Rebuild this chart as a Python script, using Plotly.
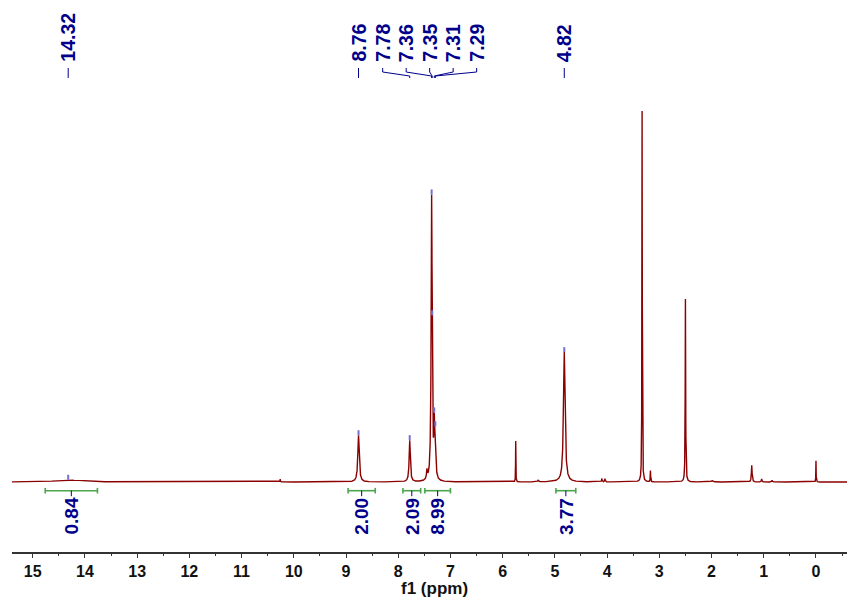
import numpy as np
import plotly.graph_objects as go

# ---------------- data ----------------
# peak list: chemical shift (ppm), relative intensity, half width (ppm)
peak_ppm = [14.32, 10.26, 8.76, 7.78, 7.45, 7.36, 7.35, 7.31, 7.29, 5.75, 5.32,
            4.82, 4.10, 4.04, 3.33, 3.17, 2.50, 1.99, 1.23, 1.04, 0.84, 0.00]
peak_int = [0.6, 0.8, 12.6, 11.2, 2.4, 75.5, 2.5, 13.0, 10.5, 11.0, 0.5,
            35.0, 0.9, 0.9, 100.0, 3.0, 49.3, 0.4, 4.5, 0.8, 0.5, 5.7]
peak_hw = [0.25, 0.004, 0.016, 0.013, 0.010, 0.011, 0.010, 0.010, 0.010, 0.003, 0.010,
           0.018, 0.006, 0.006, 0.004, 0.004, 0.005, 0.020, 0.008, 0.006, 0.006, 0.003]

# picked peak labels
label_text = ["14.32", "8.76", "7.78", "7.36", "7.35", "7.31", "7.29", "4.82"]
label_ppm = [14.32, 8.76, 7.78, 7.36, 7.35, 7.31, 7.29, 4.82]

# integrals
int_from = [14.76, 8.96, 7.91, 7.49, 4.98]
int_to = [13.76, 8.44, 7.57, 7.00, 4.60]
int_text = ["0.84", "2.00", "2.09", "8.99", "3.77"]

tick_vals = list(range(0, 16))
tick_text = [str(v) for v in tick_vals]

# ---------------- layout constants ----------------
W, H = 847, 599
ML, MR, MT, MB = 12, 0, 0, 47
PH = H - MT - MB            # plot height in px
X_RANGE = [15.396, -0.594]
Y_RANGE = [-18.87, 129.92]
PX_PER_UNIT = PH / (Y_RANGE[1] - Y_RANGE[0])
PX_PER_PPM = (W - ML - MR) / (X_RANGE[0] - X_RANGE[1])

RED = "#8B0000"
NAVY = "#00008B"
GREEN = "#4da64d"
FONT = "Liberation Sans, Arial, sans-serif"


def ypap(py):
    """pixel row (from top of plot area) -> paper y"""
    return 1 - py / PH


# ---------------- spectrum ----------------
x = np.concatenate([np.linspace(X_RANGE[0], X_RANGE[1], 16000), np.array(peak_ppm)])
x = np.sort(x)[::-1]


def spectrum(xx):
    xx = np.asarray(xx, dtype=float)
    yy = np.zeros_like(xx)
    for c, h, w in zip(peak_ppm, peak_int, peak_hw):
        yy += h / (1 + ((xx - c) / w) ** 2)
    return yy


y = spectrum(x)

fig = go.Figure()
fig.add_trace(go.Scatter(x=x, y=y, mode="lines",
                         line=dict(color=RED, width=1.4),
                         hoverinfo="skip", showlegend=False))

# peak pick markers (small bluish ticks on the peak tops)
mx, my = [], []
for p in label_ppm:
    v = float(spectrum([p])[0])
    mx += [p, p, None]
    my += [v, v + 5 / PX_PER_UNIT, None]
fig.add_trace(go.Scatter(x=mx, y=my, mode="lines",
                         line=dict(color="#7070d0", width=2),
                         hoverinfo="skip", showlegend=False))

shapes = []
annotations = []

# ---------------- peak labels ----------------
group = [i for i, p in enumerate(label_ppm) if 7.0 < p < 8.0]
gcenter = 7.398
gstep = 23.5 / PX_PER_PPM
label_x = list(label_ppm)
n = len(group)
for k, i in enumerate(group):
    label_x[i] = gcenter + gstep * ((n - 1) / 2 - k)

for t, p, lx in zip(label_text, label_ppm, label_x):
    annotations.append(dict(
        x=lx, xref="x", y=ypap(64), yref="paper",
        text=t, textangle=-90, showarrow=False,
        xanchor="center", yanchor="bottom",
        font=dict(family=FONT, size=19.5, color=NAVY, weight="bold")))
    path = (f"M {lx},{ypap(68)} L {lx},{ypap(72)} "
            f"L {p},{ypap(76)} L {p},{ypap(78)}")
    shapes.append(dict(type="path", path=path, xref="x", yref="paper",
                       line=dict(color=NAVY, width=1)))

# ---------------- integrals ----------------
bar_py = 490.7
for a, b, t in zip(int_from, int_to, int_text):
    shapes.append(dict(type="line", xref="x", yref="paper", x0=a, x1=b,
                       y0=ypap(bar_py), y1=ypap(bar_py),
                       line=dict(color=GREEN, width=1.6)))
    for e in (a, b):
        shapes.append(dict(type="line", xref="x", yref="paper", x0=e, x1=e,
                           y0=ypap(bar_py - 2.8), y1=ypap(bar_py + 2.8),
                           line=dict(color=GREEN, width=1.6)))
    c = (a + b) / 2
    shapes.append(dict(type="line", xref="x", yref="paper", x0=c, x1=c,
                       y0=ypap(bar_py), y1=ypap(bar_py + 5.5),
                       line=dict(color=NAVY, width=1)))
    annotations.append(dict(
        x=c, xref="x", y=ypap(bar_py + 5.0), yref="paper",
        text=t, textangle=-90, showarrow=False,
        xanchor="center", yanchor="top",
        font=dict(family=FONT, size=19, color=NAVY, weight="bold")))

# axis title
annotations.append(dict(
    x=(434 - ML) / (W - ML - MR), xref="paper", y=ypap(600.5), yref="paper",
    text="f1 (ppm)", showarrow=False, xanchor="center", yanchor="bottom",
    font=dict(family=FONT, size=17, color="#111111", weight="bold")))

fig.update_layout(
    width=W, height=H, autosize=False,
    margin=dict(l=ML, r=MR, t=MT, b=MB, pad=0),
    paper_bgcolor="white", plot_bgcolor="white",
    showlegend=False,
    shapes=shapes, annotations=annotations,
    xaxis=dict(range=X_RANGE, showgrid=False, zeroline=False,
               showline=True, linecolor="#333333", linewidth=1.5,
               ticks="outside", ticklen=4, tickwidth=1.3, tickcolor="#333333",
               tickmode="array", tickvals=tick_vals, ticktext=tick_text,
               ticklabelstandoff=0,
               tickfont=dict(family=FONT, size=16, color="#111111", weight="bold"),
               minor=dict(dtick=0.5, tick0=0, ticks="outside", ticklen=2,
                          tickwidth=1, tickcolor="#333333", showgrid=False)),
    yaxis=dict(range=Y_RANGE, visible=False, showgrid=False, zeroline=False),
)

fig.write_html("out.html", config={"displayModeBar": False})
